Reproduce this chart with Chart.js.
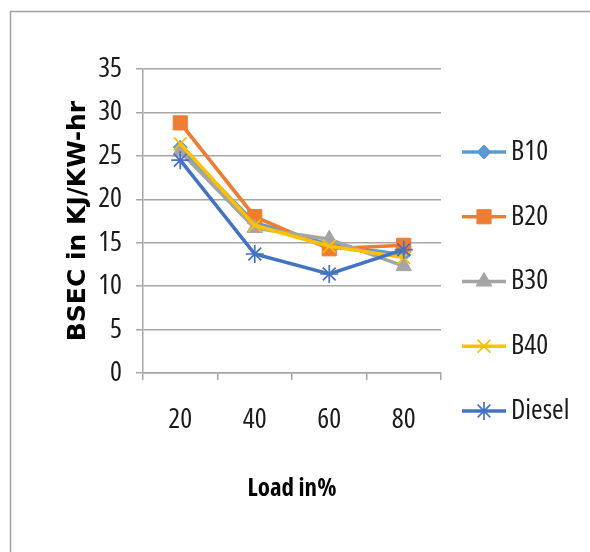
<!DOCTYPE html>
<html>
<head>
<meta charset="utf-8">
<script src="https://cdn.jsdelivr.net/npm/chart.js@4/dist/chart.umd.min.js"></script>
<style>
  html, body { margin: 0; padding: 0; background: #ffffff; }
  #wrap { width: 590px; height: 552px; position: relative; }
</style>
</head>
<body>
<div id="wrap"><canvas id="c" width="590" height="552"></canvas></div>
<script>
// ---- data ----
const loads = ["20", "40", "60", "80"];
const seriesNames = ["B10", "B20", "B30", "B40", "Diesel"];
const b10 = [26.0, 17.3, 14.8, 13.6];
const b20 = [28.8, 18.0, 14.3, 14.7];
const b30 = [25.5, 16.7, 15.4, 12.3];
const b40 = [26.4, 17.0, 14.6, 13.3];
const diesel = [24.5, 13.7, 11.4, 14.2];
const yTicks = [0, 5, 10, 15, 20, 25, 30, 35];
const xTitle = "Load in%";
const yTitle = "BSEC in KJ/KW-hr";

// ---- styles ----
const colors = ["#5B9BD5", "#ED7D31", "#A5A5A5", "#FFC000", "#4472C4"];
const styles = ["rectRot", "rect", "triangle", "crossRot", "star"];
const radii = [7, 10, 9, 9, 9];
const seriesValues = [b10, b20, b30, b40, diesel];
const cond = "'Open Sans', 'DejaVu Sans', sans-serif";
const gridColor = "#a6a6a6";
const textColor = "#1a1a1a";

const datasets = seriesNames.map((name, i) => ({
  label: name,
  data: seriesValues[i],
  borderColor: colors[i],
  backgroundColor: colors[i],
  pointBackgroundColor: colors[i],
  pointBorderColor: colors[i],
  pointStyle: styles[i],
  pointRadius: radii[i],
  pointBorderWidth: (styles[i] === "crossRot" || styles[i] === "star") ? 1.7 : 1,
  borderWidth: 3.6,
  tension: 0,
  fill: false,
  order: seriesNames.length - i
}));

const frame = {
  id: "frame",
  beforeDraw(chart) {
    const ctx = chart.ctx;
    ctx.save();
    ctx.strokeStyle = "#a0a0a0";
    ctx.lineWidth = 1.5;
    ctx.beginPath();
    ctx.moveTo(10.5, 552);
    ctx.lineTo(10.5, 11.5);
    ctx.lineTo(590, 11.5);
    ctx.stroke();
    ctx.restore();
  }
};

const sideLegend = {
  id: "sideLegend",
  afterDraw(chart) {
    const ctx = chart.ctx;
    const x0 = 462, x1 = 506, tx = 511;
    const top = 152, step = 64.75;
    chart.data.datasets.forEach((ds, i) => {
      const y = top + i * step;
      ctx.save();
      ctx.strokeStyle = ds.borderColor;
      ctx.lineWidth = 3.6;
      ctx.beginPath();
      ctx.moveTo(x0, y);
      ctx.lineTo(x1, y);
      ctx.stroke();
      ctx.fillStyle = ds.pointBackgroundColor;
      ctx.strokeStyle = ds.pointBorderColor;
      ctx.lineWidth = ds.pointBorderWidth;
      if (Chart.helpers && Chart.helpers.drawPoint) {
        Chart.helpers.drawPoint(ctx, {
          pointStyle: ds.pointStyle,
          radius: ds.pointRadius,
          rotation: 0,
          borderWidth: ds.pointBorderWidth
        }, (x0 + x1) / 2, y);
      }
      ctx.fillStyle = textColor;
      ctx.font = "condensed 28px " + cond;
      ctx.textBaseline = "middle";
      ctx.textAlign = "left";
      ctx.fillText(ds.label, tx, y);
      ctx.restore();
    });
  }
};

new Chart(document.getElementById("c"), {
  type: "line",
  data: { labels: loads, datasets: datasets },
  options: {
    responsive: false,
    animation: false,
    devicePixelRatio: 1,
    layout: { padding: { left: 10, top: 69, right: 149, bottom: 0 } },
    plugins: {
      legend: { display: false },
      tooltip: { enabled: false }
    },
    scales: {
      x: {
        type: "category",
        offset: true,
        grid: {
          offset: true,
          drawOnChartArea: false,
          drawTicks: true,
          tickLength: 7,
          color: gridColor,
          lineWidth: 1.5
        },
        border: { display: true, color: gridColor, width: 1.5 },
        ticks: {
          padding: 23,
          color: textColor,
          font: { family: cond, size: 28, weight: "condensed" }
        },
        title: {
          display: true,
          text: xTitle,
          color: "#000",
          font: { family: cond, size: 25, weight: "bold condensed" },
          padding: { top: 0, bottom: 48 }
        },
        afterFit(scale) { scale.height = 179; }
      },
      y: {
        min: 0,
        max: 35,
        afterBuildTicks(scale) { scale.ticks = yTicks.map(v => ({ value: v })); },
        grid: {
          color: gridColor,
          lineWidth: 1.5,
          drawTicks: true,
          tickLength: 7
        },
        border: { display: true, color: gridColor, width: 1.5 },
        ticks: {
          padding: 14,
          color: textColor,
          font: { family: cond, size: 28, weight: "condensed" }
        },
        title: {
          display: true,
          text: yTitle,
          color: "#000",
          font: { family: "'DejaVu Sans', sans-serif", size: 25, weight: "bold" },
          padding: { top: 53, bottom: 0 }
        },
        afterFit(scale) { scale.width = 133; }
      }
    }
  },
  plugins: [frame, sideLegend]
});
</script>
</body>
</html>
